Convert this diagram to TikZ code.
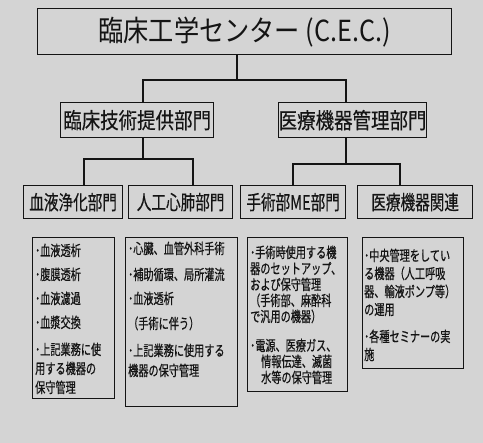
\documentclass[tikz,border=0pt]{standalone}
\usepackage{fontspec}
\newfontfamily\jptop[FakeStretch=0.87]{Noto Sans CJK JP}
\newfontfamily\jpmid[FakeStretch=0.84,FakeBold=0.4]{Noto Sans CJK JP}
\newfontfamily\jpsub[FakeStretch=0.73,FakeBold=0.4]{Noto Sans CJK JP}
\newfontfamily\jpsmall[FakeStretch=0.70,FakeBold=0.6]{Noto Sans CJK JP}
\definecolor{bg}{RGB}{212,212,212}
\definecolor{ink}{RGB}{20,20,20}
\tikzset{
  box/.style={draw=ink, line width=1.3pt, inner sep=0pt, anchor=north west, text=ink},
  conn/.style={draw=ink, line width=1.2pt},
  txt/.style={inner sep=0pt, anchor=north west, align=left, text=ink}
}
\begin{document}
\begin{tikzpicture}[x=1pt,y=-1pt]
\useasboundingbox (0,0) rectangle (483,443);
\fill[bg] (0,0) rectangle (483,443);

% top
\node[box, minimum width=414pt, minimum height=46pt, font={\jptop\fontsize{29}{30}\selectfont}] (cec) at (37,8) {臨床工学センター (C.E.C.)};

% level 2
\node[box, minimum width=153pt, minimum height=35pt, font={\jpmid\fontsize{22}{24}\selectfont}] (dep1) at (60,102) {臨床技術提供部門};
\node[box, minimum width=132pt, minimum height=35pt, font={\jpmid\fontsize{22}{24}\selectfont}] (dep2) at (278,102) {医療機器管理部門};

% level 3
\node[box, minimum width=99pt, minimum height=33pt, font={\jpsub\fontsize{20}{22}\selectfont}] (la) at (23,185) {血液浄化部門};
\node[box, minimum width=104pt, minimum height=33pt, font={\jpsub\fontsize{20}{22}\selectfont}] (lb) at (128,185) {人工心肺部門};
\node[box, minimum width=105pt, minimum height=33pt, font={\jpsub\fontsize{20}{22}\selectfont}] (lc) at (240,185) {手術部ME部門};
\node[box, minimum width=115pt, minimum height=33pt, font={\jpsub\fontsize{20}{22}\selectfont}] (ld) at (357,185) {医療機器関連};

% bottom boxes
\node[box, minimum width=82pt, minimum height=161pt] (b1) at (32,237) {};
\node[box, minimum width=112pt, minimum height=169pt] (b2) at (125,237) {};
\node[box, minimum width=100pt, minimum height=154pt] (b3) at (247,237) {};
\node[box, minimum width=101pt, minimum height=131pt] (b4) at (362,237) {};

\node[txt, font={\jpsmall\fontsize{14.5}{19}\selectfont}, xshift=3pt, yshift=-6.5pt] (t1) at (b1.north west)
{･血液透析\\[5pt]･腹膜透析\\[5pt]･血液濾過\\[5pt]･血漿交換\\[8pt]･上記業務に使\\用する機器の\\保守管理};

\node[txt, font={\jpsmall\fontsize{14.5}{20}\selectfont}, xshift=3pt, yshift=-4.5pt] (t2) at (b2.north west)
{･心臓、血管外科手術\\[6pt]･補助循環、局所灌流\\[4pt]･血液透析\\[5pt]（手術に伴う）\\[7pt]･上記業務に使用する\\機器の保守管理};

\node[txt, font={\jpsmall\fontsize{14.5}{16}\selectfont}, xshift=3pt, yshift=-8.5pt] (t3) at (b3.north west)
{･手術時使用する機\\器のセットアップ、\\および保守管理\\（手術部、麻酔科\\で汎用の機器）\\[13pt]･電源、医療ガス、\\\hspace*{11pt}情報伝達、滅菌\\\hspace*{11pt}水等の保守管理};

\node[txt, font={\jpsmall\fontsize{14.5}{18}\selectfont}, xshift=2pt, yshift=-11.5pt] (t4) at (b4.north west)
{･中央管理をしてい\\る機器（人工呼吸\\器、輸液ポンプ等）\\の運用\\[9pt]･各種セミナーの実\\施};

% connectors level 1 -> 2
\coordinate (j1) at (237,80);
\coordinate (k1) at (143,80);
\coordinate (k2) at (346,80);
\draw[conn] (cec.south -| j1) -- (j1);
\draw[conn] (dep1.north -| k1) -- (k1) -- (k2) -- (dep2.north -| k2);

% connectors level 2 -> 3
\coordinate (m1) at (143,159);
\coordinate (l1) at (84,159);
\coordinate (l2) at (193,159);
\draw[conn] (dep1.south -| m1) -- (m1);
\draw[conn] (la.north -| l1) -- (l1) -- (l2) -- (lb.north -| l2);

\coordinate (m2) at (346,164);
\coordinate (l3) at (293,164);
\coordinate (l4) at (400,164);
\draw[conn] (dep2.south -| m2) -- (m2);
\draw[conn] (lc.north -| l3) -- (l3) -- (l4) -- (ld.north -| l4);
\end{tikzpicture}
\end{document}
